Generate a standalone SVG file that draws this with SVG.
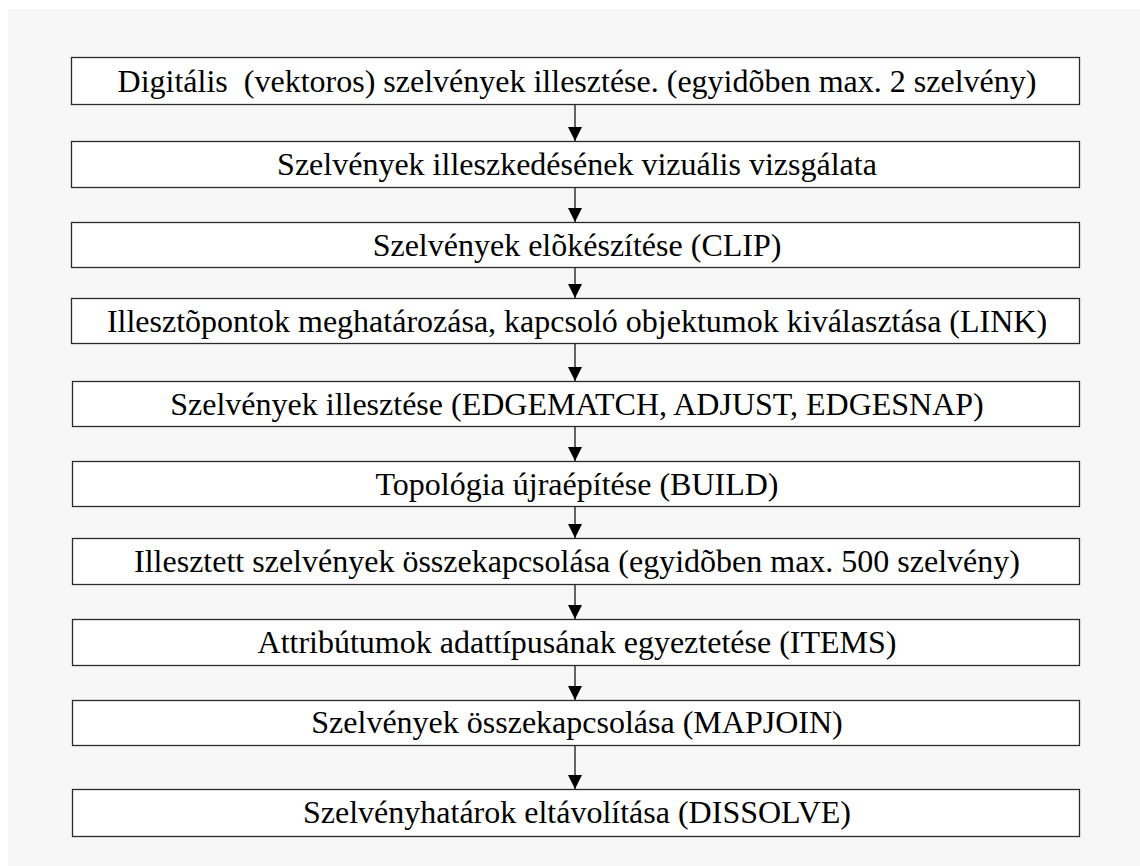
<svg xmlns="http://www.w3.org/2000/svg" width="1140" height="866" viewBox="0 0 1140 866">
<defs>
<style>
.box{fill:#ffffff;stroke:#2a2a2a;stroke-width:1.3}
.lbl{font-family:"Liberation Serif","Times New Roman",serif;font-size:32px;fill:#000;text-anchor:middle;white-space:pre}
.conn{stroke:#000;stroke-width:1.2;fill:none}
</style>
<marker id="arr" markerWidth="14" markerHeight="14" refX="14" refY="7" orient="auto" markerUnits="userSpaceOnUse">
<path d="M0,0 L14,7 L0,14 Z" fill="#000"/>
</marker>
</defs>
<rect x="0" y="0" width="1140" height="866" fill="#ffffff"/>
<rect x="8" y="9" width="1132" height="857" fill="#f7f7f7"/>
<g id="connectors">
<line class="conn" x1="575" y1="105" x2="575" y2="141" marker-end="url(#arr)"/>
<line class="conn" x1="575" y1="188" x2="575" y2="222" marker-end="url(#arr)"/>
<line class="conn" x1="575" y1="268" x2="575" y2="298" marker-end="url(#arr)"/>
<line class="conn" x1="575" y1="344" x2="575" y2="381" marker-end="url(#arr)"/>
<line class="conn" x1="575" y1="427" x2="575" y2="461" marker-end="url(#arr)"/>
<line class="conn" x1="575" y1="507" x2="575" y2="538" marker-end="url(#arr)"/>
<line class="conn" x1="575" y1="585" x2="575" y2="619" marker-end="url(#arr)"/>
<line class="conn" x1="575" y1="666" x2="575" y2="700" marker-end="url(#arr)"/>
<line class="conn" x1="575" y1="746" x2="575" y2="789" marker-end="url(#arr)"/>
</g>
<g id="n1"><rect class="box" x="71.5" y="57.5" width="1008" height="47"/><text class="lbl" x="577" y="92">Digitális  (vektoros) szelvények illesztése. (egyidõben max. 2 szelvény)</text></g>
<g id="n2"><rect class="box" x="71.5" y="141.5" width="1008" height="46"/><text class="lbl" x="577" y="175">Szelvények illeszkedésének vizuális vizsgálata</text></g>
<g id="n3"><rect class="box" x="71.5" y="222.5" width="1008" height="45"/><text class="lbl" x="577" y="256">Szelvények elõkészítése (CLIP)</text></g>
<g id="n4"><rect class="box" x="71.5" y="298.5" width="1008" height="45"/><text class="lbl" x="577" y="332">Illesztõpontok meghatározása, kapcsoló objektumok kiválasztása (LINK)</text></g>
<g id="n5"><rect class="box" x="72.5" y="381.5" width="1007" height="45"/><text class="lbl" x="577" y="415">Szelvények illesztése (EDGEMATCH, ADJUST, EDGESNAP)</text></g>
<g id="n6"><rect class="box" x="72.5" y="461.5" width="1007" height="45"/><text class="lbl" x="577" y="495">Topológia újraépítése (BUILD)</text></g>
<g id="n7"><rect class="box" x="72.5" y="538.5" width="1007" height="46"/><text class="lbl" x="577" y="572">Illesztett szelvények összekapcsolása (egyidõben max. 500 szelvény)</text></g>
<g id="n8"><rect class="box" x="72.5" y="619.5" width="1007" height="46"/><text class="lbl" x="577" y="653">Attribútumok adattípusának egyeztetése (ITEMS)</text></g>
<g id="n9"><rect class="box" x="72.5" y="700.5" width="1007" height="45"/><text class="lbl" x="577" y="733">Szelvények összekapcsolása (MAPJOIN)</text></g>
<g id="n10"><rect class="box" x="72.5" y="789.5" width="1007" height="47"/><text class="lbl" x="577" y="823">Szelvényhatárok eltávolítása (DISSOLVE)</text></g>
</svg>
